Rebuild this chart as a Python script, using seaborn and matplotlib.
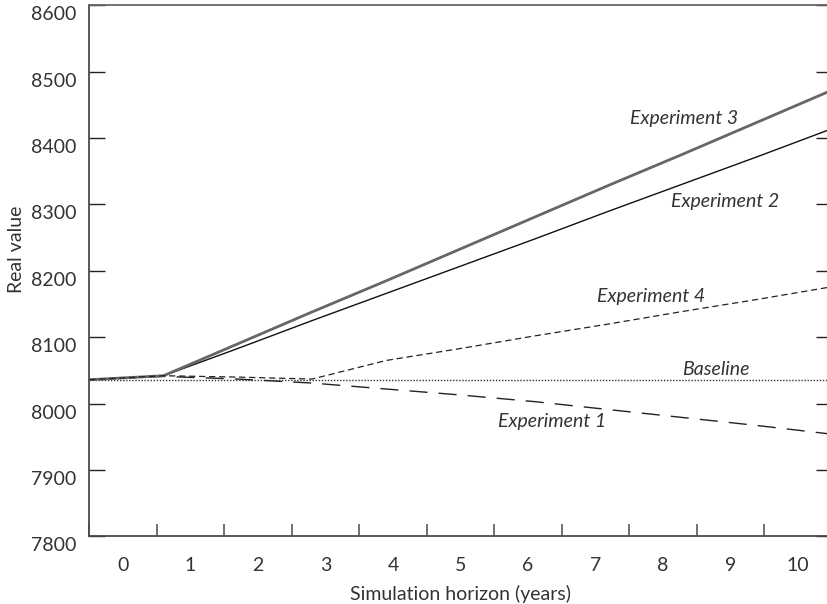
import numpy as np
import pandas as pd
import matplotlib
matplotlib.use("Agg")
import matplotlib.pyplot as plt
import matplotlib.transforms as mtransforms
import seaborn as sns

# ---- data ----
years = [0, 1, 2, 3, 4, 5, 6, 7, 8, 9, 10]
baseline = [8036, 8036, 8036, 8036, 8036, 8036, 8036, 8036, 8036, 8036, 8036]
experiment1 = [8036, 8041, 8037, 8031, 8022, 8013, 8003, 7991, 7979, 7967, 7954]
experiment2 = [8036, 8042, 8083, 8125, 8166, 8207, 8248, 8290, 8331, 8372, 8414]
experiment3 = [8036, 8042, 8090, 8138, 8185, 8233, 8281, 8329, 8376, 8424, 8472]
experiment4 = [8036, 8042, 8040, 8037, 8065, 8083, 8102, 8120, 8139, 8157, 8176]
tick_labels = ["0", "1", "2", "3", "4", "5", "6", "7", "8", "9", "10"]
y_ticks = [7800, 7900, 8000, 8100, 8200, 8300, 8400, 8500, 8600]

series = {
    "Baseline": baseline,
    "Experiment 1": experiment1,
    "Experiment 2": experiment2,
    "Experiment 3": experiment3,
    "Experiment 4": experiment4,
}
df = pd.DataFrame(
    [(name, y, v) for name, vals in series.items() for y, v in zip(years, vals)],
    columns=["series", "year", "value"],
)

sns.set_theme(style="white")
plt.rcParams["font.family"] = ["Lato", "DejaVu Sans"]

TXT = "#333333"
SPINE = "#4a4a4a"

fig = plt.figure(figsize=(8.28, 6.04), dpi=100)
ax = fig.add_axes([89.2 / 828, 1 - 536.4 / 604, (831.7 - 89.2) / 828, (536.4 - 5.3) / 604])

# category axis (labels between tick marks)
ax.set_xlim(-0.5, 10.5)
ax.set_ylim(7800, 8600)
ax.set_xticks(range(len(tick_labels)))
ax.set_xticklabels(tick_labels)
ax.set_xticks(np.arange(-0.5, 10.5, 1.0), minor=True)
ax.set_yticks(y_ticks)
ax.set_yticklabels([str(v) for v in y_ticks])
ax.tick_params(axis="x", which="major", length=0, pad=15, labelsize=14, labelcolor=TXT)
ax.tick_params(axis="x", which="minor", direction="in", length=8.6, width=1.1, color=SPINE, bottom=True)
ax.tick_params(axis="y", which="major", direction="in", length=11.5, width=1.0, color="#222222",
               left=True, right=True, pad=9.5, labelsize=14, labelcolor=TXT)
# y tick labels sit slightly below their ticks in the reference
shift = mtransforms.ScaledTranslation(0, -8 / 100, fig.dpi_scale_trans)
for lbl in ax.get_yticklabels():
    lbl.set_transform(lbl.get_transform() + shift)

for s in ["left", "bottom"]:
    ax.spines[s].set_color(SPINE)
    ax.spines[s].set_linewidth(1.3)
ax.spines["top"].set_color("#666666")
ax.spines["top"].set_linewidth(1.3)
ax.spines["right"].set_visible(False)
ax.set_xlabel("Simulation horizon (years)", fontsize=14, color=TXT, labelpad=8)
ax.set_ylabel("Real value", fontsize=14, color=TXT)
ax.yaxis.set_label_coords(-0.087, 0.54)

# line axis: years spread across the full width
lx = ax.twiny()
lx.set_xlim(0, 10)
lx.set_ylim(7800, 8600)
lx.set_xticks([])
for s in lx.spines.values():
    s.set_visible(False)

styles = {
    "Baseline": dict(color="#333333", lw=1.0, ls=(0, (1, 1.2))),
    "Experiment 1": dict(color="#222222", lw=1.0, ls=(0, (13, 8))),
    "Experiment 2": dict(color="#111111", lw=1.0, ls="-"),
    "Experiment 3": dict(color="#666666", lw=2.0, ls="-"),
    "Experiment 4": dict(color="#222222", lw=0.9, ls=(0, (5, 3))),
}
for name, st in styles.items():
    sub = df[df["series"] == name]
    sns.lineplot(data=sub, x="year", y="value", ax=lx, color=st["color"],
                 linewidth=st["lw"], linestyle=st["ls"], legend=False)
lx.set_xlabel("")
lx.set_ylabel("")

# labels
lab = dict(fontsize=14, style="italic", color=TXT, ha="left", va="center")
ax.text(7.51, 8430, "Experiment 3", **lab)
ax.text(8.115, 8304, "Experiment 2", **lab)
ax.text(7.02, 8161, "Experiment 4", **lab)
ax.text(8.29, 8051, "Baseline", **lab)
ax.text(5.556, 7973, "Experiment 1", **lab)

fig.savefig("out.png", dpi=100)
